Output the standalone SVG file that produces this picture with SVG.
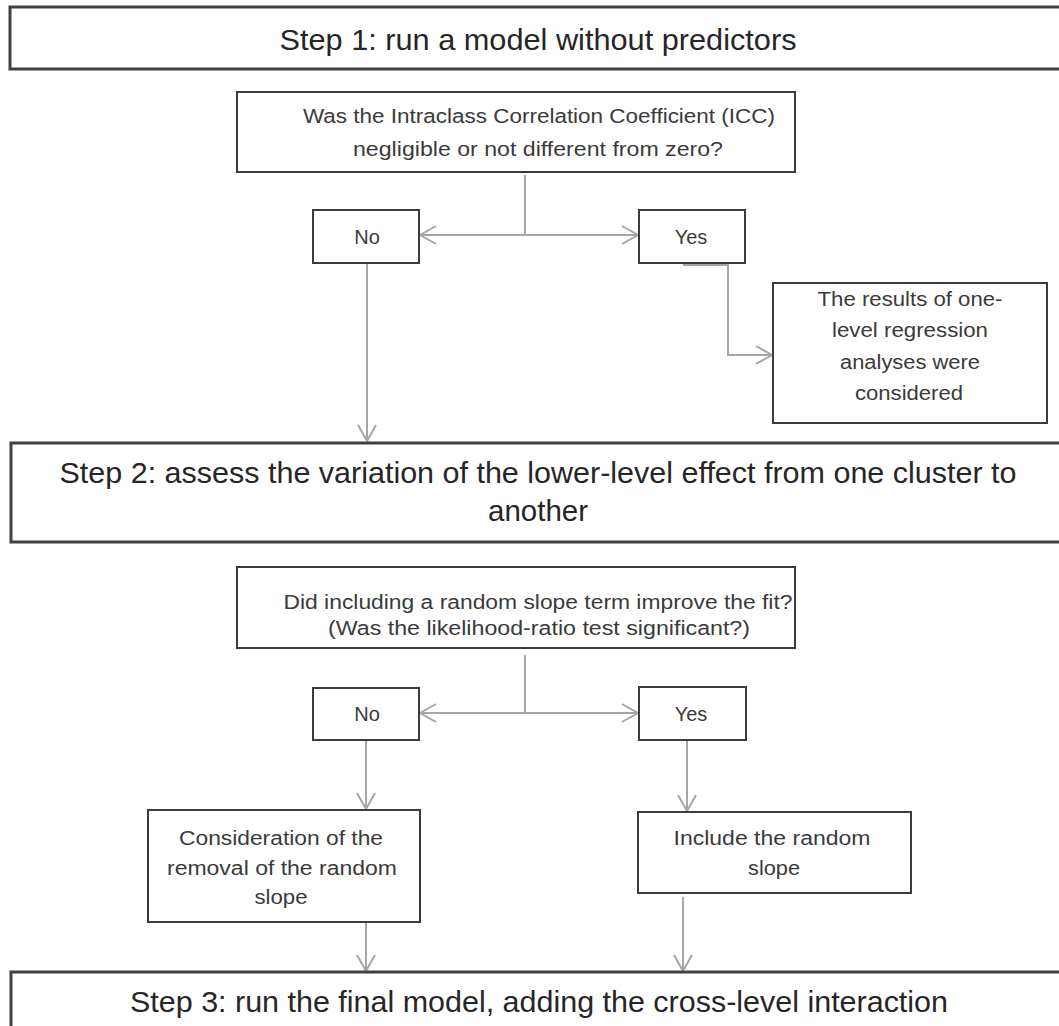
<svg xmlns="http://www.w3.org/2000/svg" width="1059" height="1026" viewBox="0 0 1059 1026">
<style>
.box{fill:#fff;stroke:#3c3c3c;stroke-width:2}
.step{fill:#fff;stroke:#404040;stroke-width:3}
.t{font-family:"Liberation Sans",Arial,sans-serif;fill:#3a3a3a;text-anchor:middle}
.s{font-size:29px;fill:#262626}
.m{font-size:20px}
.c{fill:none;stroke:#a6a6a6;stroke-width:2}
</style>
<defs>
<marker id="arr" viewBox="-18 -11 20 22" refX="0" refY="0" markerWidth="20" markerHeight="22" markerUnits="userSpaceOnUse" orient="auto">
<path d="M-16,-9 L0,0 L-16,9" fill="none" stroke="#a6a6a6" stroke-width="2"/>
</marker>
</defs>
<rect width="1059" height="1026" fill="#fff"/>
<g id="connectors">
<path class="c" d="M525,175 V235"/>
<path class="c" d="M525,235 H420" marker-end="url(#arr)"/>
<path class="c" d="M525,235 H638" marker-end="url(#arr)"/>
<path class="c" d="M367,263 V441" marker-end="url(#arr)"/>
<path class="c" d="M683,265 H728 V355 H772" marker-end="url(#arr)"/>
<path class="c" d="M525,655 V713"/>
<path class="c" d="M525,713 H420" marker-end="url(#arr)"/>
<path class="c" d="M525,713 H638" marker-end="url(#arr)"/>
<path class="c" d="M366,740 V809" marker-end="url(#arr)"/>
<path class="c" d="M687,740 V811" marker-end="url(#arr)"/>
<path class="c" d="M366,922 V971" marker-end="url(#arr)"/>
<path class="c" d="M683,897 V971" marker-end="url(#arr)"/>
</g>
<g id="step1">
<rect class="step" x="10" y="7" width="1070" height="62"/>
<text class="t s" x="538" y="50" textLength="517" lengthAdjust="spacingAndGlyphs">Step 1: run a model without predictors</text>
</g>
<g id="q1">
<rect class="box" x="237" y="92" width="558" height="80"/>
<text class="t m" x="539" y="123" textLength="472" lengthAdjust="spacingAndGlyphs">Was the Intraclass Correlation Coefficient (ICC)</text>
<text class="t m" x="538" y="156" textLength="370" lengthAdjust="spacingAndGlyphs">negligible or not different from zero?</text>
</g>
<g id="no1">
<rect class="box" x="313" y="210" width="106" height="53"/>
<text class="t m" x="367" y="244">No</text>
</g>
<g id="yes1">
<rect class="box" x="639" y="210" width="106" height="53"/>
<text class="t m" x="691" y="244">Yes</text>
</g>
<g id="result">
<rect class="box" x="773" y="283" width="274" height="140"/>
<text class="t m" x="910" y="306" textLength="185" lengthAdjust="spacingAndGlyphs">The results of one-</text>
<text class="t m" x="910" y="337" textLength="156" lengthAdjust="spacingAndGlyphs">level regression</text>
<text class="t m" x="910" y="369" textLength="140" lengthAdjust="spacingAndGlyphs">analyses were</text>
<text class="t m" x="909" y="400" textLength="108" lengthAdjust="spacingAndGlyphs">considered</text>
</g>
<g id="step2">
<rect class="step" x="11" y="443" width="1070" height="99"/>
<text class="t s" x="538" y="483" textLength="957" lengthAdjust="spacingAndGlyphs">Step 2: assess the variation of the lower-level effect from one cluster to</text>
<text class="t s" x="538" y="521" textLength="100" lengthAdjust="spacingAndGlyphs">another</text>
</g>
<g id="q2">
<rect class="box" x="237" y="567" width="558" height="81"/>
<text class="t m" x="538" y="609" textLength="509" lengthAdjust="spacingAndGlyphs">Did including a random slope term improve the fit?</text>
<text class="t m" x="539" y="635" textLength="422" lengthAdjust="spacingAndGlyphs">(Was the likelihood-ratio test significant?)</text>
</g>
<g id="no2">
<rect class="box" x="313" y="688" width="106" height="52"/>
<text class="t m" x="367" y="721">No</text>
</g>
<g id="yes2">
<rect class="box" x="639" y="687" width="107" height="53"/>
<text class="t m" x="691" y="721">Yes</text>
</g>
<g id="consider">
<rect class="box" x="148" y="810" width="272" height="112"/>
<text class="t m" x="281" y="845" textLength="204" lengthAdjust="spacingAndGlyphs">Consideration of the</text>
<text class="t m" x="282" y="875" textLength="230" lengthAdjust="spacingAndGlyphs">removal of the random</text>
<text class="t m" x="281" y="904" textLength="53" lengthAdjust="spacingAndGlyphs">slope</text>
</g>
<g id="include">
<rect class="box" x="638" y="812" width="273" height="81"/>
<text class="t m" x="772" y="845" textLength="197" lengthAdjust="spacingAndGlyphs">Include the random</text>
<text class="t m" x="774" y="875" textLength="52" lengthAdjust="spacingAndGlyphs">slope</text>
</g>
<g id="step3">
<rect class="step" x="11" y="972" width="1070" height="70"/>
<text class="t s" x="539" y="1012" textLength="818" lengthAdjust="spacingAndGlyphs">Step 3: run the final model, adding the cross-level interaction</text>
</g>
</svg>
